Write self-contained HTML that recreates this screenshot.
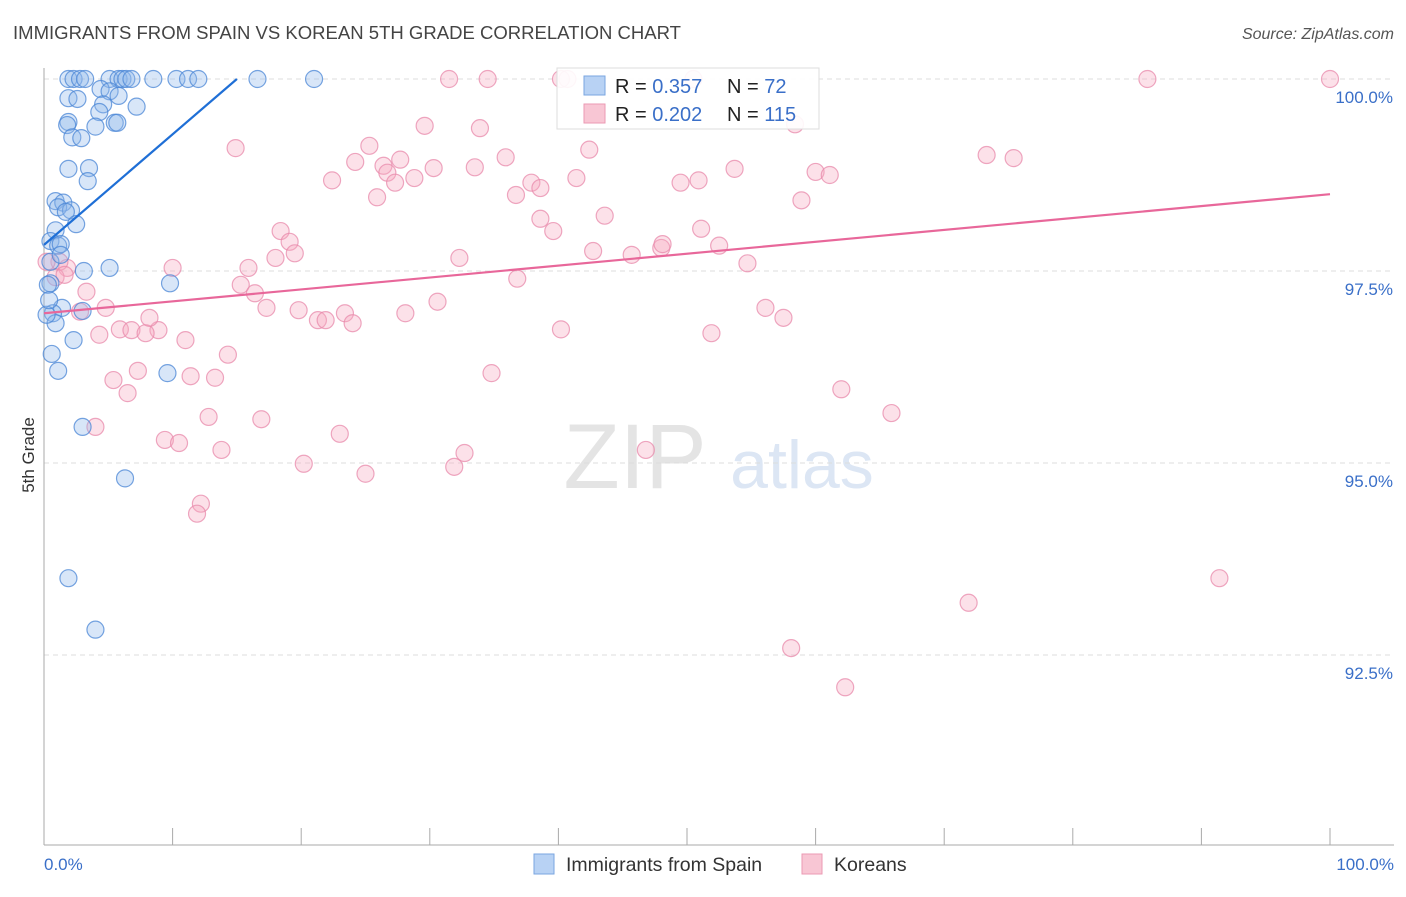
<!DOCTYPE html>
<html><head><meta charset="utf-8"><style>
body{margin:0;background:#fff;font-family:"Liberation Sans",sans-serif;}
svg text{font-family:"Liberation Sans",sans-serif;}
</style></head><body>
<svg id="chart" width="1406" height="892" xmlns="http://www.w3.org/2000/svg">
<text x="13" y="39" font-size="18.5" fill="#444" textLength="668" lengthAdjust="spacingAndGlyphs">IMMIGRANTS FROM SPAIN VS KOREAN 5TH GRADE CORRELATION CHART</text>
<text x="1394" y="39" font-size="16" fill="#555" text-anchor="end" font-style="italic">Source: ZipAtlas.com</text>
<g>
<text x="635" y="488" font-size="92" font-family="Liberation Serif" fill="#e4e4e4" text-anchor="middle">ZIP</text>
<text x="802" y="488" font-size="68" fill="#dce6f4" text-anchor="middle">atlas</text>
</g>
<g id="grid"></g>
<g id="axes"></g>
<g id="pts"></g>
<g id="lines"></g>
<text transform="translate(34,455) rotate(-90)" font-size="17" fill="#333" text-anchor="middle">5th Grade</text>
<text x="44" y="870" font-size="17" fill="#3a6fc8">0.0%</text>
<text x="1394" y="870" font-size="17" fill="#3a6fc8" text-anchor="end">100.0%</text>
<g>
<rect x="557" y="68" width="262" height="61" fill="#fff" fill-opacity="0.9" stroke="#ddd"/>
<rect x="584" y="76" width="21" height="19" fill="#b8d2f4" stroke="#7aa6e0"/>
<rect x="584" y="104" width="21" height="19" fill="#f8c6d4" stroke="#eb9ab3"/>
<text x="615" y="93" font-size="20" fill="#222">R = <tspan fill="#3a6fc8">0.357</tspan></text>
<text x="727" y="93" font-size="20" fill="#222">N = <tspan fill="#3a6fc8"> 72</tspan></text>
<text x="615" y="121" font-size="20" fill="#222">R = <tspan fill="#3a6fc8">0.202</tspan></text>
<text x="727" y="121" font-size="20" fill="#222">N = <tspan fill="#3a6fc8">115</tspan></text>
</g>
<g>
<g><rect x="534" y="854" width="20" height="20" fill="#b8d2f4" stroke="#7aa6e0"/><text x="566" y="871" font-size="19.5" fill="#333">Immigrants from Spain</text></g>
<g><rect x="802" y="854" width="20" height="20" fill="#f8c6d4" stroke="#eb9ab3"/><text x="834" y="871" font-size="19.5" fill="#333">Koreans</text></g>
</g>
</svg>
<script>
const yTicks=[100,97.5,95,92.5];
const yTickLabels=["100.0%","97.5%","95.0%","92.5%"];
const xTicks=[0,10,20,30,40,50,60,70,80,90,100];
const blueX=[1.9,2.3,2.8,3.2,5.1,5.8,6.1,6.4,6.8,8.5,10.3,11.2,12.0,16.6,21.0,4.4,5.1,5.8,1.9,2.6,4.6,4.3,7.2,1.9,1.8,4.0,5.5,5.7,2.2,2.9,3.5,1.9,3.4,0.9,1.5,1.1,2.1,1.7,2.5,0.9,0.5,1.1,1.3,0.5,3.1,5.1,9.8,0.5,0.3,1.4,0.7,3.0,0.9,2.3,0.6,1.1,9.6,3.0,6.3,1.9,4.0,0.2,0.4,1.3];
const blueY=[100,100,100,100,100,100,100,100,100,100,100,100,100,100,100,99.87,99.84,99.78,99.75,99.74,99.67,99.57,99.64,99.44,99.40,99.38,99.43,99.43,99.24,99.23,98.84,98.83,98.67,98.41,98.39,98.33,98.29,98.27,98.11,98.03,97.89,97.83,97.85,97.62,97.50,97.54,97.34,97.34,97.32,97.02,96.95,96.98,96.82,96.60,96.42,96.20,96.17,95.47,94.80,93.50,92.83,96.93,97.12,97.71];
const pinkX=[31.5,34.5,40.2,40.7,50.5,85.8,100,58.4,29.6,33.9,14.9,25.3,42.4,35.9,73.3,75.4,26.4,24.2,27.7,30.3,33.5,26.7,22.4,28.8,27.3,37.9,38.6,41.4,49.5,50.9,53.7,60.0,61.1,25.9,36.7,58.9,43.6,38.6,39.6,51.1,18.4,19.1,19.5,42.7,45.7,48.0,48.1,52.5,32.3,18.0,15.9,10.0,54.7,1.8,1.2,0.9,1.6,36.8,15.3,16.4,3.3,30.6,4.8,2.8,17.3,19.8,21.3,21.9,23.4,24.0,28.1,56.1,57.5,51.9,40.2,5.9,6.8,8.9,7.9,8.2,4.3,11.0,14.3,7.3,5.4,11.4,13.3,34.8,6.5,62.0,65.9,12.8,16.9,4.0,9.4,10.5,23.0,13.8,32.7,31.9,20.2,25.0,46.8,12.2,11.9,91.4,71.9,58.1,62.3,0.2];
const pinkY=[100,100,100,100,100,100,100,99.41,99.39,99.36,99.10,99.13,99.08,98.98,99.01,98.97,98.87,98.92,98.95,98.84,98.85,98.78,98.68,98.71,98.65,98.65,98.58,98.71,98.65,98.68,98.83,98.79,98.75,98.46,98.49,98.42,98.22,98.18,98.02,98.05,98.02,97.88,97.73,97.76,97.71,97.80,97.85,97.83,97.67,97.67,97.54,97.54,97.60,97.54,97.62,97.42,97.45,97.40,97.32,97.21,97.23,97.10,97.02,96.97,97.02,96.99,96.86,96.86,96.95,96.82,96.95,97.02,96.89,96.69,96.74,96.74,96.73,96.73,96.69,96.89,96.67,96.60,96.41,96.20,96.08,96.13,96.11,96.17,95.91,95.96,95.65,95.60,95.57,95.47,95.30,95.26,95.38,95.17,95.13,94.95,94.99,94.86,95.17,94.47,94.34,93.50,93.18,92.59,92.08,97.62];
const blueTrend=[[0,97.84],[15,100]];
const pinkTrend=[[0,96.95],[100,98.50]];

const NS="http://www.w3.org/2000/svg";
const X0=44,X1=1330,YTOP=79,YPX=76.8;
function sx(v){return X0+(X1-X0)*v/100;}
function sy(v){return YTOP+(100-v)*YPX;}
function mk(tag,attrs,parent){const e=document.createElementNS(NS,tag);for(const k in attrs)e.setAttribute(k,attrs[k]);parent.appendChild(e);return e;}
const grid=document.getElementById('grid'),axes=document.getElementById('axes'),pts=document.getElementById('pts'),lines=document.getElementById('lines');
yTicks.forEach((t,i)=>{
  const l=mk('line',{x1:X0,x2:1394,y1:sy(t),y2:sy(t),stroke:'#ddd','stroke-dasharray':'5,4'},grid);
  
  
  const tx=mk('text',{x:1393,y:sy(t)+24,'font-size':17,fill:'#3a6fc8','text-anchor':'end'},grid);
  tx.textContent=yTickLabels[i];
  
  
});
const ya=mk('line',{x1:X0,x2:X0,y1:68,y2:845,stroke:'#aaa'},axes);


const xa=mk('line',{x1:X0,x2:1394,y1:845,y2:845,stroke:'#aaa'},axes);


xTicks.forEach(t=>{
  const l=mk('line',{x1:sx(t),x2:sx(t),y1:828,y2:845,stroke:'#aaa'},axes);
  
  
});
function drawPts(xs,ys,fill,stroke,name){
  xs.forEach((x,i)=>{
    const c=mk('circle',{cx:sx(x),cy:sy(ys[i]),r:8.5,fill:fill,'fill-opacity':0.35,stroke:stroke,'stroke-opacity':0.75,'stroke-width':1.2},pts);
    
    
  });
}
drawPts(pinkX,pinkY,'#f5a8c0','#e88aab','korean-point');
drawPts(blueX,blueY,'#8fb6ec','#4a86d6','spain-point');
const bl=mk('line',{x1:sx(blueTrend[0][0]),y1:sy(blueTrend[0][1]),x2:sx(blueTrend[1][0]),y2:sy(blueTrend[1][1]),stroke:'#1f6fd6','stroke-width':2.2},lines);


const pl=mk('line',{x1:sx(pinkTrend[0][0]),y1:sy(pinkTrend[0][1]),x2:sx(pinkTrend[1][0]),y2:sy(pinkTrend[1][1]),stroke:'#e8679a','stroke-width':2.2},lines);


</script>
</body></html>
